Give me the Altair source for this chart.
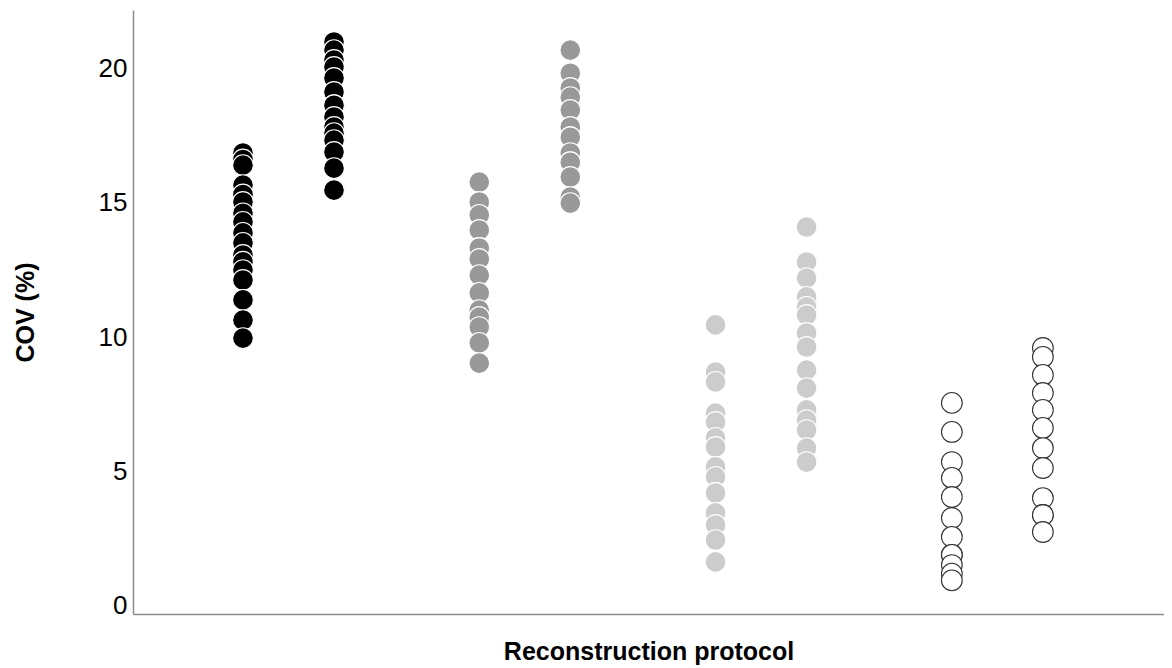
import altair as alt
import pandas as pd

# Categories
protocols = ["Protocol 1", "Protocol 2", "Protocol 3", "Protocol 4"]
subgroups = ["A", "B"]
fill_colors = ["#000000", "#999999", "#cccccc", "#ffffff"]
stroke_colors = ["#ffffff", "#ffffff", "#ffffff", "#333333"]

# COV (%) values
p1_a = [16.84, 16.6, 16.39, 15.65, 15.3, 15.02, 14.6, 14.28, 13.87, 13.5, 13.05, 12.8, 12.49, 12.12, 11.38, 10.63, 9.96]
p1_b = [20.97, 20.67, 20.3, 20.04, 19.63, 19.11, 18.62, 18.62, 18.18, 17.81, 17.58, 17.32, 16.88, 16.28, 15.46]
p2_a = [15.76, 15.02, 14.54, 13.98, 13.31, 13.31, 12.9, 12.3, 11.64, 11.0, 10.74, 10.74, 10.37, 9.78, 9.03]
p2_b = [20.67, 19.81, 19.26, 18.92, 18.44, 17.81, 17.43, 17.43, 16.84, 16.5, 16.5, 15.95, 15.2, 14.98]
p3_a = [10.45, 8.7, 8.33, 7.17, 6.84, 6.25, 5.91, 5.17, 4.8, 4.2, 4.2, 3.46, 3.46, 3.01, 2.45, 1.64]
p3_b = [14.09, 12.79, 12.19, 11.49, 11.12, 10.82, 10.15, 9.63, 8.77, 8.1, 7.29, 6.91, 6.54, 5.87, 5.35]
p4_a = [7.55, 6.47, 5.35, 4.76, 4.05, 3.27, 2.57, 1.9, 1.9, 1.52, 1.2, 0.95]
p4_b = [9.59, 9.26, 8.59, 7.92, 7.29, 6.62, 5.87, 5.13, 4.01, 3.38, 3.38, 2.75]

series = [
    (protocols[0], subgroups[0], p1_a), (protocols[0], subgroups[1], p1_b),
    (protocols[1], subgroups[0], p2_a), (protocols[1], subgroups[1], p2_b),
    (protocols[2], subgroups[0], p3_a), (protocols[2], subgroups[1], p3_b),
    (protocols[3], subgroups[0], p4_a), (protocols[3], subgroups[1], p4_b),
]
rows = []
for prot, sub, vals in series:
    for v in vals:
        rows.append({"protocol": prot, "sub": sub, "cov": v})
df = pd.DataFrame(rows)

FONT = "Liberation Sans"

chart = alt.Chart(df).mark_point(
    shape="circle", filled=True, size=430, strokeWidth=1.1, opacity=1
).encode(
    x=alt.X(
        "protocol:N",
        sort=protocols,
        scale=alt.Scale(type="band", paddingInner=0, paddingOuter=0.1816, align=0.435),
        axis=alt.Axis(
            labels=False, ticks=False, grid=False,
            title="Reconstruction protocol", titleFontSize=25, titleFontWeight="bold",
            titleFont=FONT, titleColor="#000000", titlePadding=25,
            domainColor="#8c8c8c", domainWidth=1.5,
        ),
    ),
    xOffset=alt.XOffset(
        "sub:N", sort=subgroups,
        scale=alt.Scale(type="point", padding=0.798),
    ),
    y=alt.Y(
        "cov:Q",
        scale=alt.Scale(domain=[-0.3, 22.16], nice=False, zero=False),
        axis=alt.Axis(
            values=[0, 5, 10, 15, 20], ticks=False, grid=False,
            labelFontSize=26, labelFont=FONT, labelColor="#000000", labelPadding=6,
            title="COV (%)", titleFontSize=25, titleFontWeight="bold", titleFont=FONT,
            titleColor="#000000", titleX=-108, titleY=302, titleAngle=-90,
            titleAlign="center", titleBaseline="middle",
            domainColor="#8c8c8c", domainWidth=1.5,
        ),
    ),
    fill=alt.Fill("protocol:N", scale=alt.Scale(domain=protocols, range=fill_colors), legend=None),
    stroke=alt.Stroke("protocol:N", scale=alt.Scale(domain=protocols, range=stroke_colors), legend=None),
).properties(
    width=1031,
    height=604,
    autosize=alt.AutoSizeParams(type="none"),
    padding={"left": 125, "top": 2, "right": 0, "bottom": 52},
).configure_view(stroke=None)

chart.save("out.html", embed_options={"renderer": "svg", "actions": False})
